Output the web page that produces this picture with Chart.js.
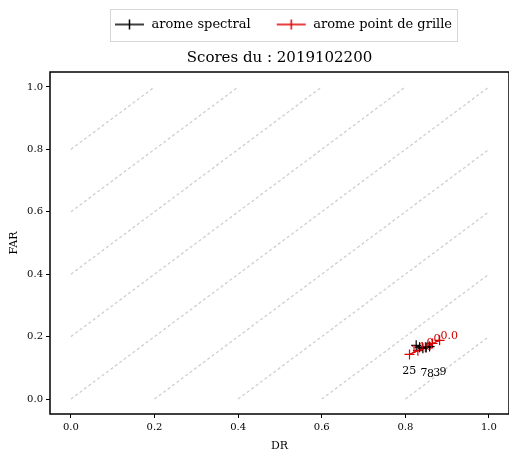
<!DOCTYPE html>
<html>
<head>
<meta charset="utf-8">
<script src="https://cdn.jsdelivr.net/npm/chart.js@4/dist/chart.umd.min.js"></script>
<style>
    html, body { margin: 0; padding: 0; background: #ffffff; overflow: hidden; }
    #wrap { width: 509px; height: 453px; }
</style>
</head>
<body>
<div id="wrap"><canvas id="scores"></canvas></div>
<script>
// values
const titleText = "Scores du : 2019102200";
const seriesNames = ["arome spectral", "arome point de grille"];
const spectralDR = [0.826, 0.834, 0.842, 0.850, 0.858];
const spectralFAR = [0.172, 0.166, 0.163, 0.165, 0.168];
const spectralLabels = ["25", "7", "8", "3", "9"];
const grilleDR = [0.810, 0.830, 0.848, 0.865, 0.882];
const grilleFAR = [0.143, 0.155, 0.166, 0.178, 0.188];
const grilleLabels = ["1", "10", "0", "0", "0.0"];
const tickValues = [0.0, 0.2, 0.4, 0.6, 0.8, 1.0];
const diagOffsets = [0.8, 0.6, 0.4, 0.2, 0.0, -0.2, -0.4, -0.6, -0.8];

const serif = "'DejaVu Serif', 'Liberation Serif', serif";

function toPoints(xs, ys) {
    return xs.map((x, i) => ({ x: x, y: ys[i] }));
}

// y = x + c, clipped to the unit square
function diagLine(c) {
    const x0 = Math.max(0, -c);
    const x1 = Math.min(1, 1 - c);
    return [{ x: x0, y: x0 + c }, { x: x1, y: x1 + c }];
}

// blank 8px on the left so the items sit apart like the original
function legendIcon(color) {
    const c = document.createElement("canvas");
    c.width = 38;
    c.height = 12;
    const g = c.getContext("2d");
    g.strokeStyle = color;
    g.lineWidth = 1.5;
    g.beginPath();
    g.moveTo(8, 6); g.lineTo(37, 6);
    g.moveTo(22.5, 1); g.lineTo(22.5, 11);
    g.stroke();
    return c;
}

const diagSets = diagOffsets.map((c) => ({
    type: "line",
    data: diagLine(c),
    borderColor: "#cfcfcf",
    borderWidth: 1.3,
    borderDash: [3, 2.5],
    pointRadius: 0,
    fill: false,
    isDiag: true
}));

const frameAndLabels = {
    id: "frameAndLabels",
    afterDatasetsDraw(chart) {
        const ctx = chart.ctx;
        const a = chart.chartArea;
        const xs = chart.scales.x;
        const ys = chart.scales.y;
        ctx.save();
        ctx.font = "11px " + serif;
        ctx.textBaseline = "middle";
        ctx.textAlign = "left";
        ctx.fillStyle = "#000000";
        spectralLabels.forEach((t, i) => {
            const px = xs.getPixelForValue(spectralDR[i]);
            const py = ys.getPixelForValue(spectralFAR[i]);
            const dx = i === 0 ? -14 : -2 + i * 3;
            ctx.fillText(t, px + dx, py + 26);
        });
        ctx.fillStyle = "#d00000";
        grilleLabels.forEach((t, i) => {
            const px = xs.getPixelForValue(grilleDR[i]);
            const py = ys.getPixelForValue(grilleFAR[i]);
            ctx.fillText(t, px + 1, py - 4);
        });
        ctx.strokeStyle = "#000000";
        ctx.lineWidth = 1.5;
        ctx.strokeRect(a.left, a.top, a.right - a.left, a.bottom - a.top);
        ctx.restore();
    },
    afterDraw(chart) {
        const lg = chart.legend;
        if (!lg || !lg.legendHitBoxes.length) return;
        const boxes = lg.legendHitBoxes;
        const left = Math.min(...boxes.map((b) => b.left)) + 3;
        const right = Math.max(...boxes.map((b) => b.left + b.width)) + 5;
        const mid = boxes[0].top + boxes[0].height / 2;
        const ctx = chart.ctx;
        ctx.save();
        ctx.strokeStyle = "#d6d6d6";
        ctx.lineWidth = 1;
        ctx.strokeRect(Math.round(left) + 0.5, Math.round(mid - 16) + 0.5, Math.round(right - left), 32);
        ctx.restore();
    }
};

new Chart(document.getElementById("scores"), {
    type: "scatter",
    data: {
        datasets: [
            {
                type: "line",
                label: seriesNames[0],
                data: toPoints(spectralDR, spectralFAR),
                borderColor: "#000000",
                backgroundColor: "#000000",
                borderWidth: 1.2,
                pointStyle: "cross",
                pointRadius: 5,
                pointBorderWidth: 1.2,
                fill: false,
                legendIcon: legendIcon("#000000")
            },
            {
                type: "line",
                label: seriesNames[1],
                data: toPoints(grilleDR, grilleFAR),
                borderColor: "#e00000",
                backgroundColor: "#e00000",
                borderWidth: 1.2,
                pointStyle: "cross",
                pointRadius: 5,
                pointBorderWidth: 1.2,
                fill: false,
                legendIcon: legendIcon("#e00000")
            }
        ].concat(diagSets)
    },
    options: {
        responsive: true,
        maintainAspectRatio: false,
        animation: false,
        layout: { autoPadding: false, padding: 0 },
        scales: {
            x: {
                type: "linear",
                min: -0.05,
                max: 1.048,
                afterBuildTicks: (s) => { s.ticks = tickValues.map((v) => ({ value: v })); },
                afterFit: (s) => { s.height = 39; s.paddingLeft = 0; s.paddingRight = 0; },
                grid: { drawOnChartArea: false, drawTicks: true, tickLength: 4, color: "#000000" },
                border: { display: false },
                ticks: {
                    color: "#000000",
                    padding: 3,
                    font: { family: serif, size: 10 },
                    callback: (v) => Number(v).toFixed(1)
                },
                title: { display: true, text: "DR", color: "#000000", padding: 0, font: { family: serif, size: 11 } }
            },
            y: {
                type: "linear",
                min: -0.048,
                max: 1.048,
                afterBuildTicks: (s) => { s.ticks = tickValues.map((v) => ({ value: v })); },
                afterFit: (s) => { s.width = 50; s.paddingTop = 0; s.paddingBottom = 0; },
                grid: { drawOnChartArea: false, drawTicks: true, tickLength: 4, color: "#000000" },
                border: { display: false },
                ticks: {
                    color: "#000000",
                    padding: 3,
                    font: { family: serif, size: 10 },
                    callback: (v) => Number(v).toFixed(1)
                },
                title: { display: true, text: "FAR", color: "#000000", padding: { top: 8, bottom: 0 }, font: { family: serif, size: 11 } }
            }
        },
        plugins: {
            legend: {
                position: "top",
                weight: 3000,
                fullSize: false,
                labels: {
                    usePointStyle: true,
                    pointStyleWidth: 38,
                    padding: 18,
                    color: "#000000",
                    font: { family: serif, size: 13 },
                    filter: (item, data) => !data.datasets[item.datasetIndex].isDiag,
                    generateLabels: (chart) => chart.data.datasets.map((d, i) => ({
                        text: d.label || "",
                        pointStyle: d.legendIcon,
                        fillStyle: d.borderColor,
                        strokeStyle: d.borderColor,
                        lineWidth: 0,
                        fontColor: "#000000",
                        hidden: false,
                        datasetIndex: i
                    }))
                }
            },
            title: {
                display: true,
                text: titleText,
                weight: 500,
                fullSize: false,
                color: "#000000",
                padding: { top: 8, bottom: 5 },
                font: { family: serif, size: 15, weight: "normal" }
            },
            tooltip: { enabled: false }
        }
    },
    plugins: [frameAndLabels]
});
</script>
</body>
</html>
